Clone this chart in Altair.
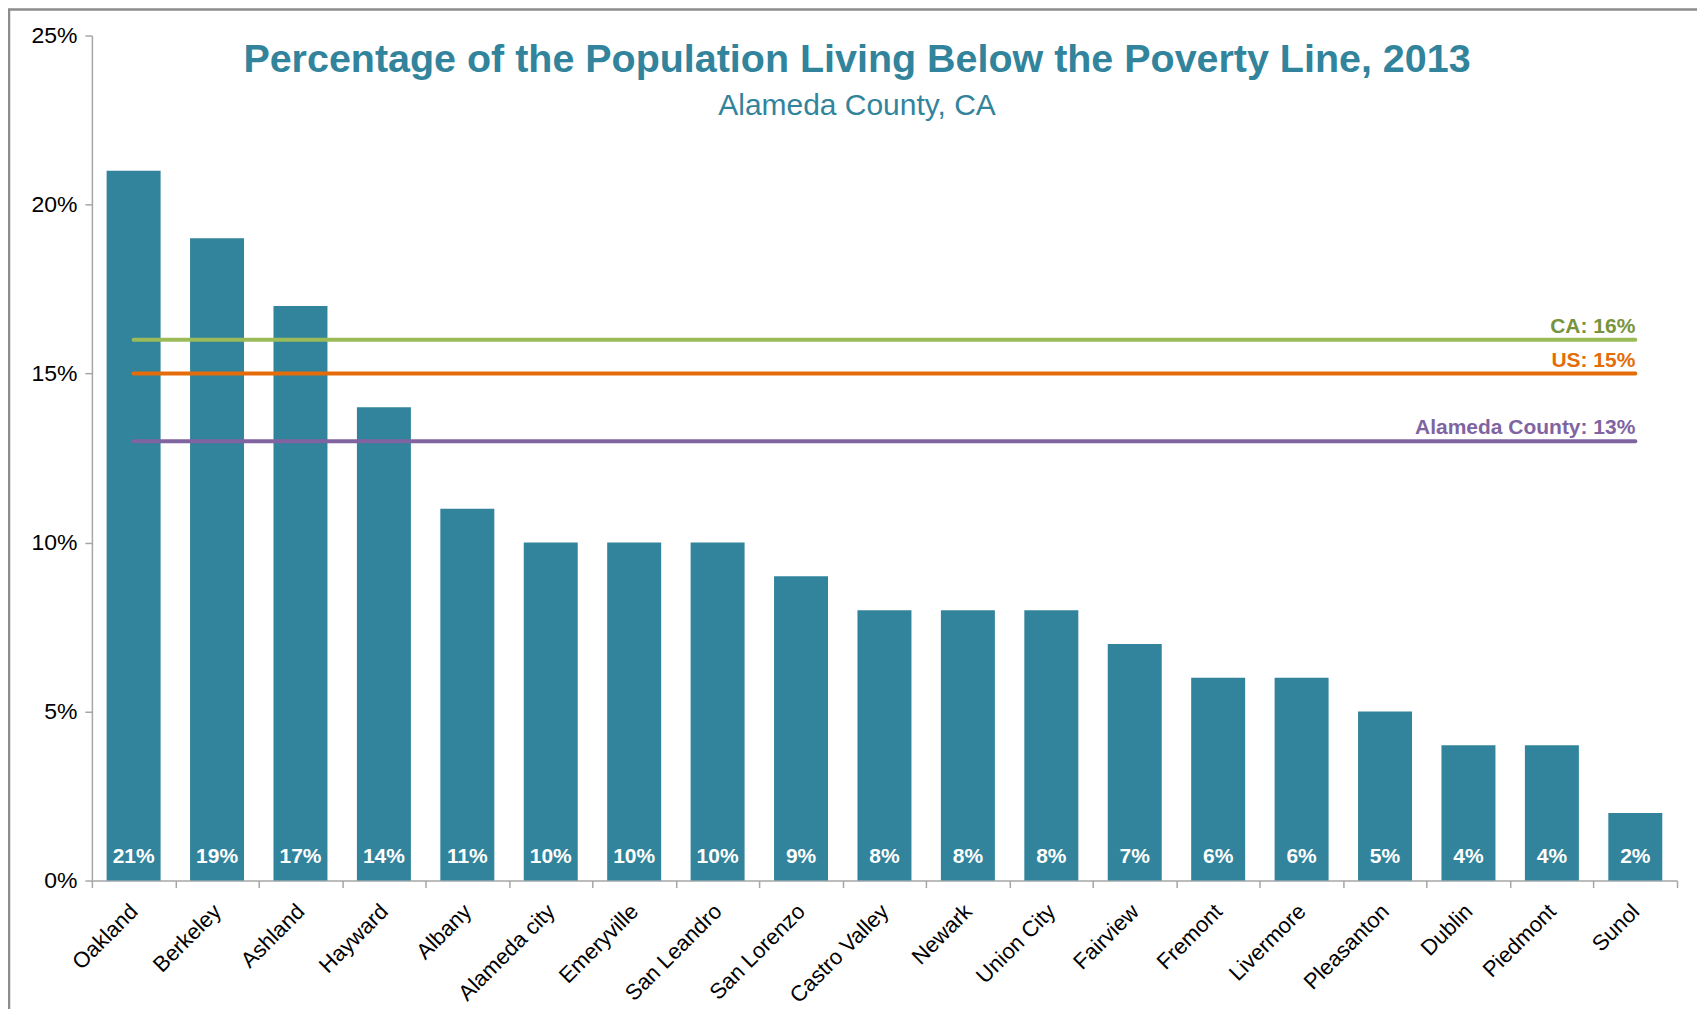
import altair as alt
import pandas as pd

cities = ["Oakland", "Berkeley", "Ashland", "Hayward", "Albany", "Alameda city",
          "Emeryville", "San Leandro", "San Lorenzo", "Castro Valley", "Newark",
          "Union City", "Fairview", "Fremont", "Livermore", "Pleasanton", "Dublin",
          "Piedmont", "Sunol"]
poverty = [21, 19, 17, 14, 11, 10, 10, 10, 9, 8, 8, 8, 7, 6, 6, 5, 4, 4, 2]

ref_names = ["CA", "US", "Alameda County"]
ref_values = [16, 15, 13]
ref_line_colors = ["#9BBB59", "#E46C0A", "#8064A2"]
ref_text_colors = ["#77933C", "#E46C0A", "#8064A2"]

y_ticks = [0, 5, 10, 15, 20, 25]

title_text = "Percentage of the Population Living Below the Poverty Line, 2013"
subtitle_text = "Alameda County, CA"

FONT = "Liberation Sans, Arial, sans-serif"
TEAL = "#31849B"
W, H = 1587, 846

bars_df = pd.DataFrame({"city": cities, "pct": poverty,
                        "label": [f"{v}%" for v in poverty]})
ref_df = pd.DataFrame({"city": [cities[0]] * len(ref_names),
                       "end": [cities[-1]] * len(ref_names),
                       "name": ref_names, "value": ref_values,
                       "label": [f"{n}: {v}%" for n, v in zip(ref_names, ref_values)]})
one_df = pd.DataFrame({"k": [0]})

xscale = alt.Scale(domain=cities, paddingInner=0, paddingOuter=0)
yscale = alt.Scale(domain=[0, 25], nice=False)

x_enc = alt.X("city:N", scale=xscale,
              axis=alt.Axis(title=None, labelAngle=-45, labelAlign="right",
                            labelBaseline="middle", labelPadding=20,
                            tickBand="extent", labelFontSize=22,
                            labelFont=FONT, labelColor="#000000",
                            domainColor="#A6A6A6", tickColor="#A6A6A6",
                            domainWidth=1.5, tickWidth=1.5, tickSize=7))
y_enc = alt.Y("pct:Q", scale=yscale,
              axis=alt.Axis(title=None, values=y_ticks, grid=False,
                            labelExpr="datum.value + '%'", labelPadding=8,
                            labelFontSize=23,
                            labelFont=FONT, labelColor="#000000",
                            domainColor="#A6A6A6", tickColor="#A6A6A6",
                            domainWidth=1.5, tickWidth=1.5, tickSize=7))

bars = alt.Chart(bars_df).mark_bar(
    color=TEAL, width=alt.RelativeBandSize(0.647)
).encode(x=x_enc, y=y_enc)

bar_labels = alt.Chart(bars_df).mark_text(
    color="white", font=FONT, fontWeight="bold", fontSize=21,
    baseline="alphabetic", dy=-18
).encode(x=alt.X("city:N", scale=xscale), y=alt.datum(0), text="label:N")

rules = alt.Chart(ref_df).mark_rule(strokeWidth=4, strokeCap="round").encode(
    x=alt.X("city:N", scale=xscale), x2="end:N",
    y=alt.Y("value:Q"),
    color=alt.Color("name:N", scale=alt.Scale(domain=ref_names, range=ref_line_colors),
                    legend=None))

ref_labels = alt.Chart(ref_df).mark_text(
    font=FONT, fontWeight="bold", fontSize=21, align="right",
    baseline="alphabetic", dy=-7
).encode(
    x=alt.X("end:N", scale=xscale), y=alt.Y("value:Q"), text="label:N",
    color=alt.Color("name:N", scale=alt.Scale(domain=ref_names, range=ref_text_colors),
                    legend=None))

title = alt.Chart(one_df).mark_text(
    text=title_text, font=FONT, fontWeight="bold", fontSize=39.5, color=TEAL,
    align="center", baseline="alphabetic"
).encode(x=alt.value(766), y=alt.value(36))

subtitle = alt.Chart(one_df).mark_text(
    text=subtitle_text, font=FONT, fontSize=30, color=TEAL,
    align="center", baseline="alphabetic"
).encode(x=alt.value(766), y=alt.value(80))

border = alt.Chart(one_df).mark_rect(
    fillOpacity=0, stroke="#8C8C8C", strokeWidth=2.5
).encode(x=alt.value(-83), x2=alt.value(W + 200), y=alt.value(-26), y2=alt.value(H + 300))

chart = alt.layer(border, bars, bar_labels, rules, ref_labels, title, subtitle).resolve_scale(
    color="independent"
).properties(
    width=W, height=H,
    background="white",
    autosize=alt.AutoSizeParams(type="none"),
    padding={"left": 84, "top": 27, "right": 20, "bottom": 128},
).configure_view(stroke="transparent", strokeWidth=0)

chart.save("out.html", embed_options={"renderer": "svg", "actions": False})
